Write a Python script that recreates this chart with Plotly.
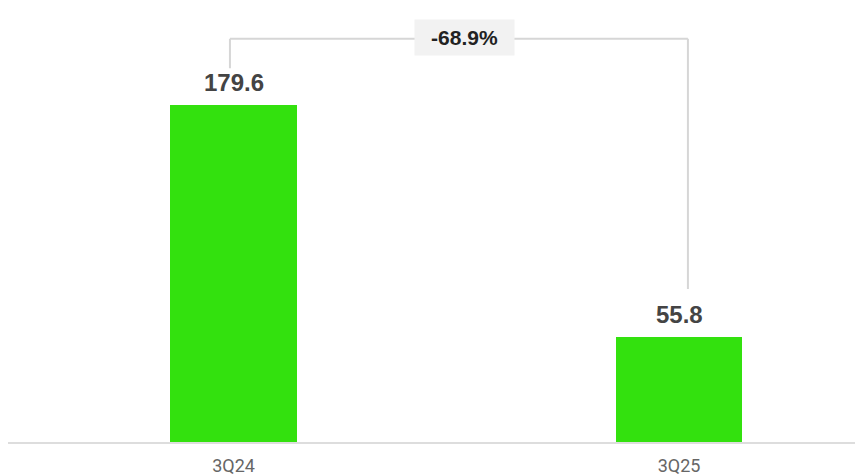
import plotly.graph_objects as go

categories = ["3Q24", "3Q25"]
values = [179.6, 55.8]
value_labels = ["179.6", "55.8"]
change_label = "-68.9%"

bar_color = "#33E10E"
xs = list(range(len(categories)))

fig = go.Figure()
fig.add_trace(go.Bar(
    x=xs, y=values, width=0.285,
    marker=dict(color=bar_color, line=dict(width=0)),
    hoverinfo="skip",
))

# value labels above bars
for x, v, t in zip(xs, values, value_labels):
    fig.add_annotation(x=x, y=v, text="<b>" + t + "</b>", showarrow=False, yanchor="bottom",
                       yshift=7, font=dict(family="Liberation Sans, Arial", size=24, color="#444444"))

# bracket
y_top = max(values) + 35.2
line_style = dict(color="#d6d6d6", width=2)
xl = xs[0] - 0.008
xr = xs[1] + 0.02
fig.add_shape(type="line", xref="x", yref="y", x0=xl, x1=xl, y0=values[0] + 19.5, y1=y_top, line=line_style)
fig.add_shape(type="line", xref="x", yref="y", x0=xl, x1=xr, y0=y_top, y1=y_top, line=line_style)
fig.add_shape(type="line", xref="x", yref="y", x0=xr, x1=xr, y0=values[1] + 25.7, y1=y_top, line=line_style)

fig.add_annotation(x=(xl + xr) / 2, y=y_top, text="<b>" + change_label + "</b>", showarrow=False,
                   xanchor="center", yanchor="middle", yshift=1.5, xshift=6,
                   font=dict(family="Liberation Sans, Arial", size=21, color="#222222"),
                   bgcolor="#f2f2f2", borderpad=0, width=99, height=35)

fig.update_layout(
    width=855, height=467,
    margin=dict(l=0, r=0, t=0, b=33, autoexpand=False),
    plot_bgcolor="white", paper_bgcolor="white",
    showlegend=False,
    xaxis=dict(range=[-0.5062, 1.4130], tickmode="array", tickvals=xs, ticktext=categories,
               showgrid=False, zeroline=False, showline=True, linecolor="#dddddd", linewidth=2,
               ticks="", ticklabelstandoff=6, automargin=False,
               tickfont=dict(family="Roboto, Liberation Sans", size=18, color="#666666")),
    yaxis=dict(range=[0, 231.2], visible=False, showgrid=False, zeroline=False, automargin=False),
    bargap=0,
)

fig.write_html("out.html")
